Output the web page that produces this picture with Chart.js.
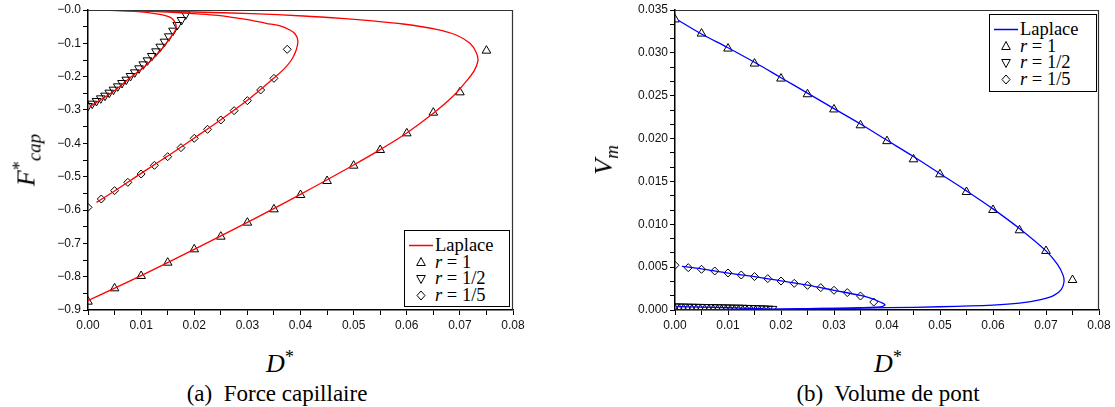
<!DOCTYPE html>
<html><head><meta charset="utf-8">
<script src="https://cdn.jsdelivr.net/npm/chart.js@4.4.1/dist/chart.umd.min.js"></script>
<style>
html,body{margin:0;padding:0;background:#fff;}
#wrap{position:relative;width:1115px;height:407px;overflow:hidden;font-family:"Liberation Serif","DejaVu Serif",serif;color:#000;}
canvas{position:absolute;top:0;}
#c1{left:0;} #c2{left:557px;}
.lbl{position:absolute;white-space:nowrap;line-height:1;}
.rot{transform-origin:center center;transform:translate(-50%,-50%) rotate(-90deg);}
.legend{position:absolute;border:1px solid #000;background:#fff;font-size:18.5px;box-sizing:border-box;}
.row{position:absolute;left:0;height:17px;line-height:17px;white-space:nowrap;}
.row svg{position:absolute;top:0;}
.row span{position:absolute;}
i{font-style:italic;}
</style>
</head><body>
<div id="wrap">
<canvas id="c1" width="557" height="340"></canvas>
<canvas id="c2" width="558" height="340"></canvas>

<div class="lbl rot" style="left:27px;top:160px;font-size:26px;"><i>F</i><sup style="font-size:18px;vertical-align:9px;">*</sup><sub style="font-size:19px;vertical-align:-6px;"><i>cap</i></sub></div>
<div class="lbl rot" style="left:606px;top:160px;font-size:26px;"><i>V</i><sub style="font-size:19px;vertical-align:-6px;"><i>m</i></sub></div>

<div class="lbl" style="left:280px;top:348px;transform:translateX(-50%);font-size:26px;"><i>D</i><sup style="font-size:18px;vertical-align:9px;">*</sup></div>
<div class="lbl" style="left:888px;top:348px;transform:translateX(-50%);font-size:26px;"><i>D</i><sup style="font-size:18px;vertical-align:9px;">*</sup></div>

<div class="lbl" style="left:277px;top:382px;transform:translateX(-50%);font-size:23px;">(a)&nbsp; Force capillaire</div>
<div class="lbl" style="left:888px;top:382px;transform:translateX(-50%);font-size:23px;">(b)&nbsp; Volume de pont</div>

<div class="legend" id="leg1" style="left:404px;top:230px;width:106px;height:77px;"></div>
<div class="legend" id="leg2" style="left:989px;top:14px;width:108px;height:78px;"></div>
</div>

<script>
// ---------- (a) Force capillaire : F*cap vs D* ----------
const aLaplaceR1 = [[0,-0.872],[0.01,-0.797],[0.02,-0.718],[0.03,-0.637],[0.04,-0.553],[0.05,-0.465],[0.055,-0.419],[0.06,-0.369],[0.065,-0.310],[0.0685,-0.262],[0.0710,-0.218],[0.0727,-0.182],[0.0734,-0.152],[0.0731,-0.128],[0.0719,-0.100],[0.0693,-0.075],[0.0656,-0.058],[0.0593,-0.042],[0.0530,-0.032],[0.0483,-0.026],[0.0405,-0.018],[0.0308,-0.011],[0.020,-0.006],[0.010,-0.002],[0,0]];
const aLaplaceR5 = [[0.0016,-0.577],[0.005,-0.543],[0.01,-0.490],[0.015,-0.438],[0.02,-0.384],[0.025,-0.329],[0.03,-0.271],[0.035,-0.204],[0.0370,-0.175],[0.0383,-0.150],[0.0392,-0.120],[0.0395,-0.092],[0.0390,-0.072],[0.0380,-0.060],[0.0360,-0.047],[0.0335,-0.040],[0.0308,-0.031],[0.0275,-0.023],[0.0244,-0.016],[0.020,-0.011],[0.015,-0.006],[0.010,-0.003],[0.005,-0.001],[0,0]];
const aLaplaceR2 = [[0.0003,-0.290],[0.0047,-0.245],[0.0078,-0.205],[0.011,-0.165],[0.0135,-0.125],[0.0154,-0.085],[0.0163,-0.065],[0.0166,-0.050],[0.0163,-0.035],[0.0155,-0.022],[0.0138,-0.014],[0.011,-0.007],[0.0088,-0.004],[0.004,-0.001],[0,0]];
const aR1D = [0,0.005,0.01,0.015,0.02,0.025,0.03,0.035,0.04,0.045,0.05,0.055,0.06,0.065,0.07,0.075];
const aR1F = [-0.875,-0.835,-0.798,-0.758,-0.718,-0.680,-0.638,-0.598,-0.555,-0.513,-0.467,-0.420,-0.370,-0.308,-0.247,-0.122];
const aR2D = [0,0.0008,0.0016,0.0024,0.0032,0.0040,0.0048,0.0056,0.0064,0.0072,0.0080,0.0088,0.0096,0.0104,0.0112,0.0120,0.0128,0.0136,0.0144,0.0152,0.0160,0.0168,0.0176,0.0184];
const aR2F = [-0.288,-0.281,-0.273,-0.265,-0.257,-0.248,-0.239,-0.229,-0.219,-0.209,-0.198,-0.187,-0.175,-0.163,-0.151,-0.138,-0.124,-0.110,-0.095,-0.079,-0.062,-0.045,-0.030,-0.013];
const aR5D = [0,0.0025,0.005,0.0075,0.01,0.0125,0.015,0.0175,0.02,0.0225,0.025,0.0275,0.03,0.0325,0.035,0.0375];
const aR5F = [-0.592,-0.567,-0.542,-0.517,-0.492,-0.466,-0.440,-0.413,-0.385,-0.358,-0.330,-0.302,-0.272,-0.240,-0.205,-0.118];

// ---------- (b) Volume de pont : Vm vs D* ----------
const bLaplaceR1 = [[0.0006,0.0338],[0.005,0.0322],[0.01,0.0306],[0.015,0.0289],[0.02,0.0271],[0.025,0.0253],[0.03,0.0235],[0.035,0.0217],[0.04,0.0198],[0.045,0.0179],[0.05,0.0159],[0.055,0.0139],[0.06,0.0118],[0.065,0.0095],[0.07,0.0069],[0.0722,0.0053],[0.0732,0.0041],[0.0734,0.0033],[0.0729,0.0024],[0.0715,0.0017],[0.069,0.0012],[0.065,0.0008],[0.06,0.00058],[0.05,0.00038],[0.04,0.00027],[0.03,0.00018],[0.02,0.00011],[0.01,0.00005],[0,0.00001]];
const bLaplaceR5 = [[0.0013,0.0051],[0.005,0.0048],[0.01,0.0043],[0.015,0.0039],[0.02,0.0034],[0.025,0.0029],[0.03,0.0023],[0.035,0.0017],[0.0373,0.0013],[0.0387,0.00093],[0.0396,0.00063],[0.0392,0.00042],[0.0378,0.00032],[0.035,0.00026],[0.03,0.0002],[0.025,0.00015],[0.015,0.00008],[0.005,0.00003],[0,0]];
const bLaplaceR2 = [[0.0003,0.0004],[0.005,0.00033],[0.01,0.00026],[0.015,0.00018],[0.0168,0.0001],[0.016,0.00005],[0.01,0.00002],[0,0]];
const bR1D = aR1D;
const bR1V = [0.0339,0.03225,0.0305,0.02875,0.0270,0.02517,0.0234,0.02155,0.0197,0.01758,0.01583,0.01377,0.01167,0.0093,0.00689,0.0035];
const bR2D = aR2D;
const bR2V = [0.00042,0.00041,0.00040,0.00039,0.00038,0.00037,0.00036,0.00035,0.00034,0.00033,0.00032,0.00031,0.00030,0.00029,0.00028,0.00027,0.00026,0.00024,0.00023,0.00021,0.00020,0.00018,0.00016,0.00013];
const bR5D = aR5D;
const bR5V = [0.00522,0.00494,0.00475,0.00455,0.00432,0.00408,0.0039,0.00366,0.00338,0.00311,0.00288,0.00261,0.0023,0.00203,0.00163,0.00093];

const legendLabels = ['Laplace','r = 1','r = 1/2','r = 1/5'];

const pts = (pairs) => pairs.map(p => ({x:p[0], y:p[1]}));
const zip = (xs, ys) => xs.map((x,i) => ({x, y:ys[i]}));

function curve(data, color){
  return {data:pts(data), showLine:true, borderColor:color, borderWidth:1.3, pointRadius:0, tension:0.35, fill:false};
}
function marks(data, style, r, rot){
  return {data, showLine:false, pointStyle:style, pointRadius:r, pointRotation:rot||0,
    pointBorderColor:'#000', pointBackgroundColor:'rgba(0,0,0,0)', pointBorderWidth:1, pointHoverRadius:r};
}

const framePlugin = {
  id:'frame',
  afterDraw(chart){
    const {ctx, chartArea:a} = chart;
    ctx.save();
    ctx.strokeStyle='#333'; ctx.lineWidth=1.2;
    ctx.beginPath();
    ctx.moveTo(a.left, a.top+0.5); ctx.lineTo(a.right-0.5, a.top+0.5); ctx.lineTo(a.right-0.5, a.bottom);
    ctx.stroke();
    ctx.restore();
  }
};

const tickFont = {family:'"Liberation Sans", Arial, sans-serif', size:12};
function isMult(v, step){ const q=v/step; return Math.abs(q-Math.round(q))<1e-6; }

function xScale(){
  return {type:'linear', min:0, max:0.08,
    ticks:{stepSize:0.005, autoSkip:false, maxRotation:0, font:tickFont, color:'#111', padding:3,
      callback:(v)=> isMult(v,0.01) ? (Math.round(v/0.01)*0.01).toFixed(2) : ''},
    grid:{drawOnChartArea:false, drawTicks:true, tickLength:5, color:'#000', tickWidth:1},
    border:{display:true, color:'#000', width:1.5},
    afterFit:(s)=>{ s.height = 30; }
  };
}

const common = {
  responsive:false, animation:false, events:[],
  plugins:{legend:{display:false}, tooltip:{enabled:false}},
};

new Chart(document.getElementById('c1'), {
  type:'scatter',
  data:{datasets:[
    curve(aLaplaceR1,'#ff0000'),
    curve(aLaplaceR5,'#ff0000'),
    curve(aLaplaceR2,'#ff0000'),
    marks(zip(aR1D,aR1F),'triangle',5,0),
    marks(zip(aR2D,aR2F),'triangle',5,180),
    marks(zip(aR5D,aR5F),'rectRot',4,0)
  ]},
  options:Object.assign({}, common, {
    layout:{padding:{top:10,right:44,left:0,bottom:0}},
    scales:{
      x:xScale(),
      y:{type:'linear', min:-0.9, max:0,
        ticks:{stepSize:0.05, autoSkip:false, font:tickFont, color:'#111', padding:2,
          callback:(v)=> isMult(v,0.1) ? '\u2212' + Math.abs(Math.round(v*10)/10).toFixed(1) : ''},
        grid:{drawOnChartArea:false, drawTicks:true, tickLength:5, color:'#000'},
        border:{display:true, color:'#000', width:1.5},
        afterFit:(s)=>{ s.width = 88; }
      }
    }
  }),
  plugins:[framePlugin]
});

new Chart(document.getElementById('c2'), {
  type:'scatter',
  data:{datasets:[
    curve(bLaplaceR1,'#0000ff'),
    curve(bLaplaceR5,'#0000ff'),
    curve(bLaplaceR2,'#0000ff'),
    marks(zip(bR1D,bR1V),'triangle',5,0),
    marks(zip(bR2D,bR2V),'triangle',5,180),
    marks(zip(bR5D,bR5V),'rectRot',4,0)
  ]},
  options:Object.assign({}, common, {
    layout:{padding:{top:10,right:16,left:0,bottom:0}},
    scales:{
      x:xScale(),
      y:{type:'linear', min:0, max:0.035,
        ticks:{stepSize:0.005/3, autoSkip:false, font:tickFont, color:'#111', padding:2,
          callback:(v)=> isMult(v,0.005) ? (Math.round(v/0.005)*0.005).toFixed(3) : ''},
        grid:{drawOnChartArea:false, drawTicks:true, tickLength:5, color:'#000'},
        border:{display:true, color:'#000', width:1.5},
        afterFit:(s)=>{ s.width = 118; }
      }
    }
  }),
  plugins:[framePlugin]
});

// ---------- HTML legends ----------
function markerSvg(kind, color){
  if(kind==='line') return '<svg width="26" height="17" style="left:3px"><line x1="1" y1="8.5" x2="25" y2="8.5" stroke="'+color+'" stroke-width="1.5"/></svg>';
  if(kind==='up') return '<svg width="12" height="17" style="left:10px"><polygon points="6,3.5 10.3,11.5 1.7,11.5" fill="none" stroke="#000" stroke-width="1"/></svg>';
  if(kind==='down') return '<svg width="12" height="17" style="left:10px"><polygon points="1.7,5.5 10.3,5.5 6,13.5" fill="none" stroke="#000" stroke-width="1"/></svg>';
  return '<svg width="12" height="17" style="left:10px"><polygon points="6,4 10,8.5 6,13 2,8.5" fill="none" stroke="#000" stroke-width="1"/></svg>';
}
function labelHtml(t){
  if(t==='Laplace') return t;
  const m = t.split(' = ');
  return '<i>'+m[0]+'</i> = '+m[1];
}
function buildLegend(id, color){
  const el = document.getElementById(id);
  const kinds = ['line','up','down','diamond'];
  const tops = [6,23,39,56];
  let h='';
  legendLabels.forEach((t,i)=>{
    h += '<div class="row" style="top:'+tops[i]+'px;width:100%">'+markerSvg(kinds[i],color)+'<span style="left:30px">'+labelHtml(t)+'</span></div>';
  });
  el.innerHTML = h;
}
buildLegend('leg1','#ff0000');
buildLegend('leg2','#0000ff');
</script>
</body></html>
